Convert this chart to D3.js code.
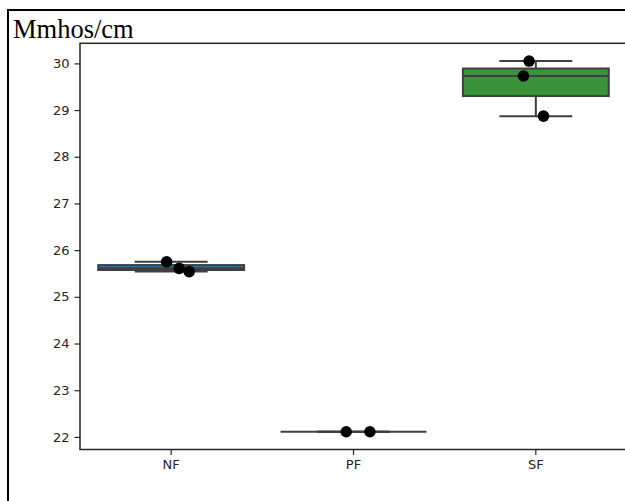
<!DOCTYPE html>
<html>
<head>
<meta charset="utf-8">
<script src="https://cdn.jsdelivr.net/npm/d3@7"></script>
<style>
  body { margin: 0; background: #fff; overflow: hidden; }
  svg { display: block; }
</style>
</head>
<body>
<div id="chart"></div>
<script>
const categories = ["NF", "PF", "SF"]
const nfValues = [25.75, 25.61, 25.54]
const pfValues = [22.11, 22.11]
const sfValues = [30.05, 29.73, 28.87]
// horizontal jitter of each dot, in category units
const nfJitter = [-0.025, 0.044, 0.099]
const pfJitter = [-0.04, 0.09]
const sfJitter = [-0.037, -0.068, 0.042]
const yTicks = [22, 23, 24, 25, 26, 27, 28, 29, 30]
const boxColors = ["#3274a1", "#e1812c", "#3a923a"]

const groups = [
  { cat: "NF", values: nfValues, jitter: nfJitter },
  { cat: "PF", values: pfValues, jitter: pfJitter },
  { cat: "SF", values: sfValues, jitter: sfJitter }
]

const W = 625, H = 501
const margin = { top: 43.3, right: -2, bottom: 51.5, left: 80 }
const width = W - margin.left - margin.right
const height = H - margin.top - margin.bottom

const svg = d3.select("#chart").append("svg")
  .attr("width", W).attr("height", H)

// outer frame (only top and left edges show in the picture)
svg.append("path")
  .attr("d", `M8,${H + 5} L8,10 L${W + 5},10`)
  .attr("fill", "none").attr("stroke", "#000").attr("stroke-width", 2)

svg.append("text")
  .attr("x", 13).attr("y", 38)
  .style("font-family", "'Liberation Serif', 'Times New Roman', serif")
  .style("font-size", "26.5px").style("fill", "#000")
  .text("Mmhos/cm")

const g = svg.append("g").attr("transform", `translate(${margin.left},${margin.top})`)

const x = d3.scaleBand().domain(categories).range([0, width])
const y = d3.scaleLinear().domain([21.73, 30.43]).range([height, 0])
const color = d3.scaleOrdinal().domain(categories).range(boxColors)

const edge = "#3f3f3f"
const boxW = x.bandwidth() * 0.8

groups.forEach(d => {
  const s = d.values.slice().sort(d3.ascending)
  const q1 = d3.quantileSorted(s, 0.25), med = d3.quantileSorted(s, 0.5), q3 = d3.quantileSorted(s, 0.75)
  const iqr = q3 - q1
  const lo = d3.min(s.filter(v => v >= q1 - 1.5 * iqr))
  const hi = d3.max(s.filter(v => v <= q3 + 1.5 * iqr))
  const cx = x(d.cat) + x.bandwidth() / 2
  const bg = g.append("g")

  // whiskers
  bg.append("line").attr("x1", cx).attr("x2", cx).attr("y1", y(q1)).attr("y2", y(lo))
    .attr("stroke", edge).attr("stroke-width", 2)
  bg.append("line").attr("x1", cx).attr("x2", cx).attr("y1", y(q3)).attr("y2", y(hi))
    .attr("stroke", edge).attr("stroke-width", 2)
  // caps
  ;[lo, hi].forEach(v => {
    bg.append("line").attr("x1", cx - boxW / 4).attr("x2", cx + boxW / 4)
      .attr("y1", y(v)).attr("y2", y(v))
      .attr("stroke", edge).attr("stroke-width", 2)
  })
  // box
  bg.append("rect")
    .attr("x", cx - boxW / 2).attr("width", boxW)
    .attr("y", y(q3)).attr("height", Math.max(0, y(q1) - y(q3)))
    .attr("fill", color(d.cat)).attr("stroke", edge).attr("stroke-width", 2)
  // median
  bg.append("line").attr("x1", cx - boxW / 2).attr("x2", cx + boxW / 2)
    .attr("y1", y(med)).attr("y2", y(med))
    .attr("stroke", edge).attr("stroke-width", 2)

  // points
  bg.selectAll("circle")
    .data(d.values.map((v, i) => ({ v, j: d.jitter[i] })))
    .join("circle")
    .attr("cx", p => cx + p.j * x.step())
    .attr("cy", p => y(p.v))
    .attr("r", 5.8)
    .attr("fill", "#000")
})

// axes
const yAxis = g.append("g")
  .call(d3.axisLeft(y).tickValues(yTicks).tickSize(5.5).tickPadding(5))
const xAxis = g.append("g")
  .attr("transform", `translate(0,${height})`)
  .call(d3.axisBottom(x).tickSize(5.5).tickPadding(5))

;[yAxis, xAxis].forEach(a => {
  a.select(".domain").remove()
  a.selectAll("line").attr("stroke", "#262626").attr("stroke-width", 1.2)
  a.selectAll("text").style("font-family", "'DejaVu Sans', sans-serif")
    .style("font-size", "13px").style("fill", "#262626")
})

// spines
g.append("rect")
  .attr("x", 0).attr("y", 0).attr("width", width).attr("height", height)
  .attr("fill", "none").attr("stroke", "#262626").attr("stroke-width", 1.5)
</script>
</body>
</html>
